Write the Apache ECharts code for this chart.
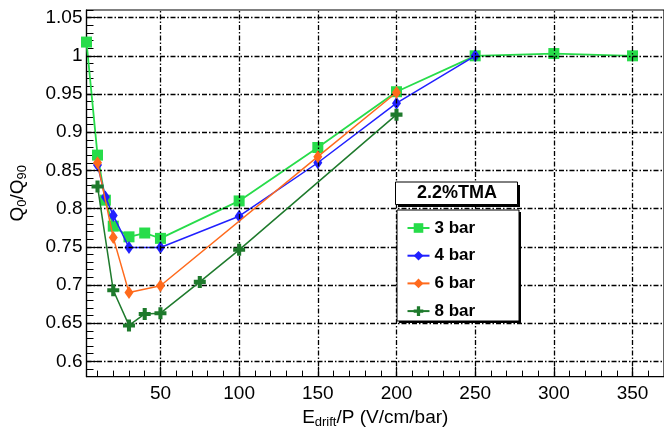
<!DOCTYPE html>
<html>
<head>
<meta charset="utf-8">
<script src="https://cdn.jsdelivr.net/npm/echarts@6/dist/echarts.min.js"></script>
<style>
  html, body { margin: 0; padding: 0; background: #fff; }
  #chart { width: 664px; height: 434px; }
</style>
</head>
<body>
<div id="chart"></div>
<script>
// Charge ratio Q0/Q90 versus reduced drift field, 2.2% TMA mixture
const seriesNames = ['3 bar', '4 bar', '6 bar', '8 bar'];

const field3bar = [3, 10, 15, 20, 30, 40, 50, 100, 150, 200, 250, 300, 350];
const ratio3bar = [1.018, 0.870, 0.811, 0.777, 0.763, 0.768, 0.761, 0.810, 0.880, 0.953, 1.000, 1.003, 1.000];

const field4bar = [10, 15, 20, 30, 50, 100, 150, 200, 250];
const ratio4bar = [0.857, 0.815, 0.791, 0.749, 0.749, 0.790, 0.860, 0.938, 1.000];

const field6bar = [10, 20, 30, 50, 150, 200];
const ratio6bar = [0.860, 0.762, 0.690, 0.699, 0.868, 0.952];

const field8bar = [10, 20, 30, 40, 50, 75, 100, 200];
const ratio8bar = [0.829, 0.693, 0.647, 0.662, 0.663, 0.704, 0.746, 0.923];

const xMajorTicks = [50, 100, 150, 200, 250, 300, 350];
const xMinorTicks = [10, 20, 30, 40, 60, 70, 80, 90, 110, 120, 130, 140, 160, 170, 180, 190,
  210, 220, 230, 240, 260, 270, 280, 290, 310, 320, 330, 340, 360];
const yMajorTicks = [0.6, 0.65, 0.7, 0.75, 0.8, 0.85, 0.9, 0.95, 1, 1.05];
const yMinorTicks = [0.58, 0.59, 0.61, 0.62, 0.63, 0.64, 0.66, 0.67, 0.68, 0.69, 0.71, 0.72, 0.73, 0.74,
  0.76, 0.77, 0.78, 0.79, 0.81, 0.82, 0.83, 0.84, 0.86, 0.87, 0.88, 0.89, 0.91, 0.92, 0.93, 0.94,
  0.96, 0.97, 0.98, 0.99, 1.01, 1.02, 1.03, 1.04, 1.06];

const legendTitle = '2.2%TMA';

const FONT = '"Liberation Sans", Arial, Helvetica, sans-serif';
const colors = ['#27dc4a', '#2020ff', '#ff6a1c', '#1e7a2c'];
const crossPath = 'path://M3.3,0H6.7V3.3H10V6.7H6.7V10H3.3V6.7H0V3.3H3.3Z';
const symbols = ['rect', 'diamond', 'diamond', crossPath];
const symbolSizes = [11, [9, 13], [9, 13], 12];

const pairs = (xs, ys) => xs.map((x, i) => [x, ys[i]]);
const allData = [pairs(field3bar, ratio3bar), pairs(field4bar, ratio4bar),
                 pairs(field6bar, ratio6bar), pairs(field8bar, ratio8bar)];

const gridDash = { color: '#000', width: 1.3, type: [5, 2, 1.5, 2], opacity: 1 };

// dashed grid at the major tick positions, drawn beneath the curves
const gridLines = [
  ...xMajorTicks.map(v => ({ xAxis: v })),
  ...yMajorTicks.map(v => ({ yAxis: v }))
];

const chart = echarts.init(document.getElementById('chart'), null, { renderer: 'canvas' });

const curveSeries = seriesNames.map((name, i) => ({
  name,
  type: 'line',
  data: allData[i],
  xAxisIndex: 0, yAxisIndex: 0,
  clip: false,
  symbol: symbols[i],
  symbolSize: symbolSizes[i],
  showAllSymbol: true,
  color: colors[i],
  lineStyle: { color: colors[i], width: i === 0 ? 1.8 : 1.5 },
  itemStyle: { color: colors[i] },
  z: 3 + i
}));

chart.setOption({
  animation: false,
  backgroundColor: '#fff',
  grid: {
    left: 82.5, top: 10, width: 587, height: 372,
    show: true, borderColor: '#000', borderWidth: 1.2, backgroundColor: '#fff'
  },
  xAxis: [
    {
      type: 'value', min: 3, max: 370,
      axisLine: { show: true, onZero: false, lineStyle: { color: '#000', width: 1.2 } },
      axisTick: { show: true, inside: true, length: 10, customValues: xMajorTicks, lineStyle: { color: '#000', width: 1.2 } },
      axisLabel: { show: true, customValues: xMajorTicks, margin: 8, color: '#000', fontFamily: FONT, fontSize: 19 },
      splitLine: { show: false },
      name: 'E{sub|drift}/P (V/cm/bar)',
      nameLocation: 'middle', nameGap: 27,
      nameTextStyle: {
        color: '#000', fontFamily: FONT, fontSize: 19,
        rich: { sub: { fontFamily: FONT, fontSize: 13, color: '#000', padding: [9, 0, 0, 0] } }
      }
    },
    {
      type: 'value', min: 3, max: 370, position: 'bottom',
      axisLine: { show: false },
      axisTick: { show: true, inside: true, length: 6, customValues: xMinorTicks, lineStyle: { color: '#000', width: 1 } },
      axisLabel: { show: false },
      splitLine: { show: false }
    }
  ],
  yAxis: [
    {
      type: 'value', min: 0.58, max: 1.06,
      axisLine: { show: true, onZero: false, lineStyle: { color: '#000', width: 1.2 } },
      axisTick: { show: true, inside: true, length: 11, customValues: yMajorTicks, lineStyle: { color: '#000', width: 1.2 } },
      axisLabel: { show: true, customValues: yMajorTicks, margin: 4, color: '#000', fontFamily: FONT, fontSize: 19 },
      splitLine: { show: false },
      name: '{q|Q}{s|0}{q|/Q}{s|90}',
      nameLocation: 'middle', nameRotate: 90, nameGap: 58,
      nameTextStyle: {
        color: '#000', fontFamily: FONT, fontSize: 19,
        rich: {
          q: { fontFamily: FONT, fontSize: 19, color: '#000' },
          s: { fontFamily: FONT, fontSize: 13, color: '#000', padding: [9, 0, 0, 0] }
        }
      }
    },
    {
      type: 'value', min: 0.58, max: 1.06, position: 'left',
      axisLine: { show: false },
      axisTick: { show: true, inside: true, length: 7, customValues: yMinorTicks, lineStyle: { color: '#000', width: 1 } },
      axisLabel: { show: false },
      splitLine: { show: false }
    }
  ],
  legend: {
    orient: 'vertical', left: 401.5, top: 214,
    itemWidth: 22, itemHeight: 12, itemGap: 9.7,
    data: seriesNames,
    textStyle: { color: '#000', fontFamily: FONT, fontSize: 17, fontWeight: 'bold', lineHeight: 18 },
    z: 20
  },
  graphic: [
    // legend frame with drop shadow
    { type: 'rect', shape: { x: 399, y: 212, width: 122, height: 111 }, style: { fill: '#000' }, z: 10 },
    { type: 'rect', shape: { x: 397, y: 210, width: 122, height: 111 }, style: { fill: '#fff', stroke: '#000', lineWidth: 1 }, z: 11 },
    // header box
    { type: 'rect', shape: { x: 398, y: 185, width: 122, height: 22 }, style: { fill: '#000' }, z: 10 },
    { type: 'rect', shape: { x: 395.5, y: 182, width: 122, height: 22.5 }, style: { fill: '#fff', stroke: '#000', lineWidth: 1 }, z: 11 },
    {
      type: 'text', x: 457, y: 193.5, z: 12,
      style: { text: legendTitle, fill: '#000', font: 'bold 18px ' + FONT, align: 'center', verticalAlign: 'middle' }
    }
  ],
  series: [
    {
      name: 'grid',
      type: 'line',
      data: [],
      xAxisIndex: 0, yAxisIndex: 0,
      silent: true,
      z: 1,
      markLine: {
        silent: true,
        symbol: ['none', 'none'],
        label: { show: false },
        lineStyle: gridDash,
        emphasis: { disabled: true },
        blur: { lineStyle: { opacity: 1 } },
        data: gridLines
      }
    },
    ...curveSeries
  ]
});
</script>
</body>
</html>
